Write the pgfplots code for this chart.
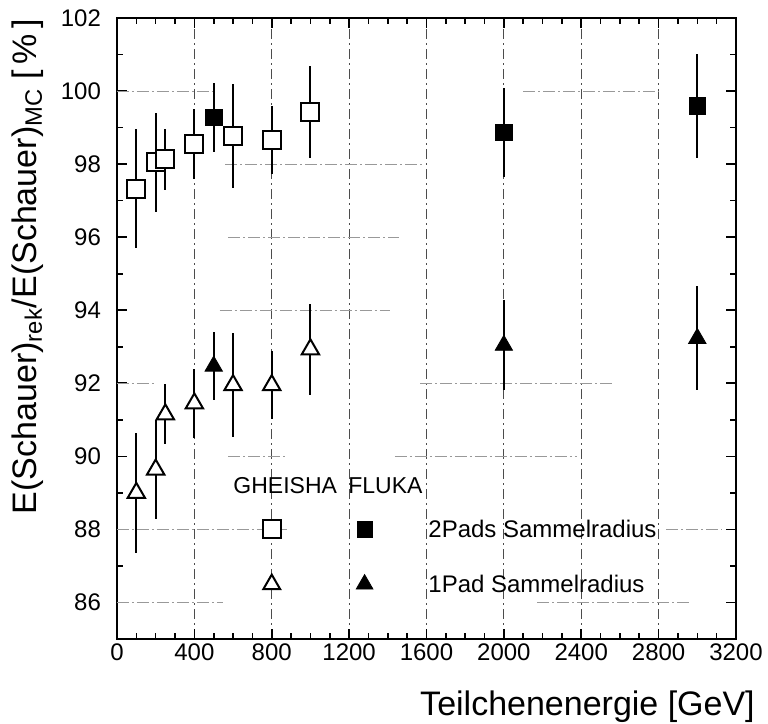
\documentclass[border=0pt]{standalone}
\usepackage{fontspec}
\setmainfont{Liberation Sans}
\usepackage{pgfplots}
\pgfplotsset{compat=1.18}
\begin{document}
\begin{tikzpicture}
\begin{axis}[
  scale only axis, width=309.5pt, height=310.5pt,
  xmin=0, xmax=3200, ymin=85, ymax=102,
  xtick={0,400,...,3200}, ytick={86,88,...,102},
  minor x tick num=3, minor y tick num=1,
  tick align=inside,
  major tick length=5pt, minor tick length=3pt,
  tick style={line width=0.8pt, black},
  axis line style={line width=1pt},
  /pgf/number format/assume math mode=true,
  /pgf/number format/set thousands separator={},
  ticklabel style={font=\fontsize{12}{14}\selectfont},
  xticklabel style={yshift=1pt},
  yticklabel style={xshift=-4.5pt},
  xmajorgrids,
  major x grid style={black!70, dash pattern=on 5pt off 2pt on 1pt off 2pt, line width=0.5pt},
  xlabel={Teilchenenergie [GeV]},
  xlabel style={at={(axis description cs:1.031,-0.124)}, anchor=base east, inner sep=0pt, font=\fontsize{17}{20}\selectfont},
  ylabel={E(Schauer)\textsubscript{rek}/E(Schauer)\textsubscript{MC} [\,\%\,]},
  ylabel style={at={(axis description cs:-0.144,0.600)}, anchor=center, inner sep=0pt, font=\fontsize{17}{20}\selectfont},
  error bars/error bar style={line width=1pt, black},
  error bars/error mark=none,
]
% partial horizontal grid segments
\pgfplotsset{hseg/.style={forget plot, gray!80, line width=0.5pt, dash pattern=on 6pt off 1.5pt on 1pt off 1.5pt, mark=none}}
\addplot[hseg] coordinates {(0,100) (500,100)};
\addplot[hseg] coordinates {(2100,100) (2800,100)};
\addplot[hseg] coordinates {(560,98) (1580,98)};
\addplot[hseg] coordinates {(575,96) (1460,96)};
\addplot[hseg] coordinates {(530,94) (1410,94)};
\addplot[hseg] coordinates {(0,92) (200,92)};
\addplot[hseg] coordinates {(1567,92) (2560,92)};
\addplot[hseg] coordinates {(575,90) (870,90)};
\addplot[hseg] coordinates {(1437,90) (2378,90)};
\addplot[hseg] coordinates {(0,88) (880,88)};
\addplot[hseg] coordinates {(2840,88) (3130,88)};
\addplot[hseg] coordinates {(0,86) (550,86)};
\addplot[hseg] coordinates {(2172,86) (2973,86)};

% GHEISHA, 2 pads (open squares)
\addplot[only marks, mark=square*, mark size=4.5pt, mark options={fill=white, draw=black, line width=1pt},
  error bars/.cd, y dir=both, y explicit]
  table[x=x, y=y, y error=e] {
x y e
100 97.32 1.63
200 98.05 1.35
250 98.13 0.84
400 98.55 0.95
600 98.77 1.43
800 98.66 0.93
1000 99.43 1.26
};
% FLUKA, 2 pads (filled squares)
\addplot[only marks, mark=square*, mark size=4.2pt, mark options={fill=black, draw=black},
  error bars/.cd, y dir=both, y explicit]
  table[x=x, y=y, y error=e] {
x y e
500 99.28 0.95
2000 98.87 1.22
3000 99.59 1.43
};
% GHEISHA, 1 pad (open triangles)
\addplot[only marks, mark=triangle*, mark size=5pt, mark options={fill=white, draw=black, line width=1pt},
  error bars/.cd, y dir=both, y explicit]
  table[x=x, y=y, y error=e] {
x y e
100 89.00 1.64
200 89.64 1.35
250 91.15 0.82
400 91.45 0.95
600 91.95 1.43
800 91.95 0.93
1000 92.93 1.24
};
% FLUKA, 1 pad (filled triangles)
\addplot[only marks, mark=triangle*, mark size=5pt, mark options={fill=black, draw=black},
  error bars/.cd, y dir=both, y explicit]
  table[x=x, y=y, y error=e] {
x y e
500 92.47 0.93
2000 93.04 1.23
3000 93.23 1.42
};

% legend markers
\addplot[only marks, mark=square*, mark size=4.5pt, mark options={fill=white, draw=black, line width=1pt}] coordinates {(800,88)};
\addplot[only marks, mark=square*, mark size=3.8pt, mark options={fill=black, draw=black}] coordinates {(1280,88)};
\addplot[only marks, mark=triangle*, mark size=4.8pt, mark options={fill=white, draw=black, line width=1pt}] coordinates {(800,86.5)};
\addplot[only marks, mark=triangle*, mark size=4.8pt, mark options={fill=black, draw=black}] coordinates {(1280,86.5)};

\node[anchor=base west, inner sep=0pt, font=\fontsize{11.5}{13}\selectfont] at (axis cs:600,88.99) {GHEISHA};
\node[anchor=base west, inner sep=0pt, font=\fontsize{11.5}{13}\selectfont] at (axis cs:1194,88.99) {FLUKA};
\node[anchor=west, inner sep=0pt, font=\fontsize{12}{14}\selectfont] at (axis cs:1608,88) {2Pads Sammelradius};
\node[anchor=west, inner sep=0pt, font=\fontsize{12}{14}\selectfont] at (axis cs:1608,86.52) {1Pad Sammelradius};
\end{axis}
\pgfresetboundingbox
\path (-58.5pt,-42.5pt) rectangle (325.5pt,319.5pt);
\end{tikzpicture}
\end{document}
